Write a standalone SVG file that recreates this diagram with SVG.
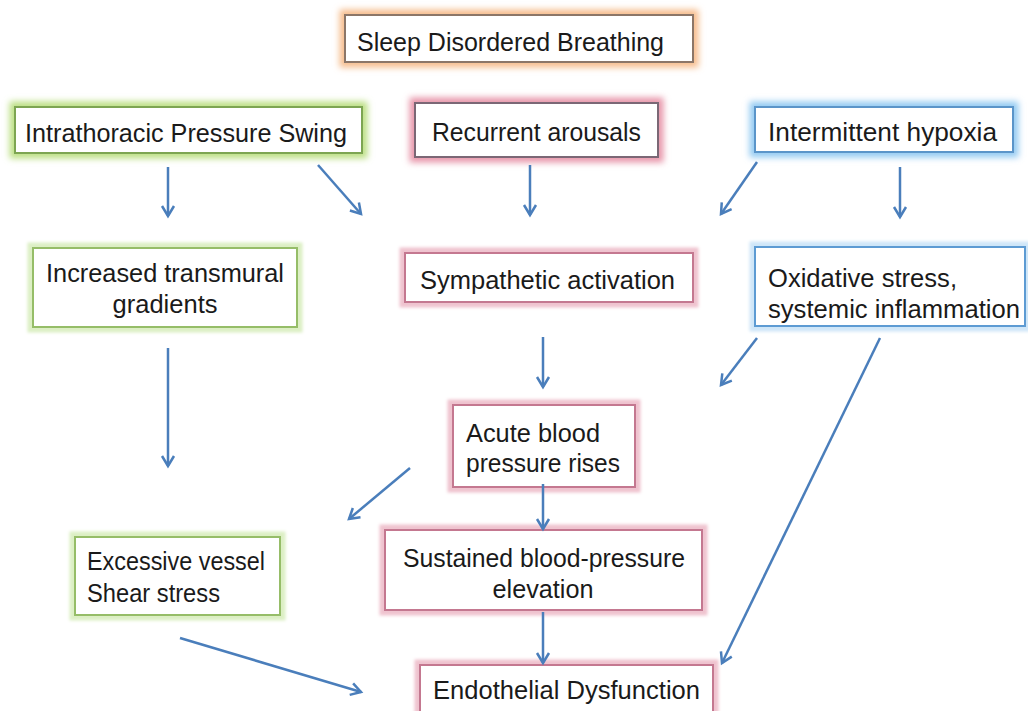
<svg xmlns="http://www.w3.org/2000/svg" width="1028" height="711" viewBox="0 0 1028 711">
<defs>
<filter id="blur" x="-20%" y="-50%" width="140%" height="200%"><feGaussianBlur stdDeviation="3"/></filter>
<filter id="blurS" x="-20%" y="-50%" width="140%" height="200%"><feGaussianBlur stdDeviation="1.5"/></filter>
<marker id="ah" markerUnits="userSpaceOnUse" markerWidth="16" markerHeight="16" refX="11" refY="7" orient="auto" overflow="visible">
<path d="M1,1 L11,7 L1,13" fill="none" stroke="#4a7ebb" stroke-width="2.5" stroke-linejoin="miter"/>
</marker>
</defs>
<style>
text{font-family:"Liberation Sans",Arial,sans-serif;font-size:25px;fill:#1a1a1a}
.c{text-anchor:middle}
.box{fill:#fff;stroke-width:2}
.glow{fill:none;stroke-width:11}
.conn line{stroke:#4a7ebb;stroke-width:2.5;marker-end:url(#ah)}
</style>
<rect width="1028" height="711" fill="#fff"/>

<g id="n-sdb">
<rect class="glow" x="345" y="15" width="348" height="47" stroke="#f6bd8e" filter="url(#blur)"/>
<rect class="box" x="345" y="15" width="348" height="47" stroke="#8c7668"/>
<text x="357" y="51" textLength="307" lengthAdjust="spacingAndGlyphs">Sleep Disordered Breathing</text>
</g>

<g id="n-itp">
<rect class="glow" x="15" y="107" width="347" height="46" stroke="#bcdf84" filter="url(#blur)"/>
<rect class="box" x="15" y="107" width="347" height="46" stroke="#7da552"/>
<text x="25" y="142" textLength="322" lengthAdjust="spacingAndGlyphs">Intrathoracic Pressure Swing</text>
</g>

<g id="n-ra">
<rect class="glow" x="415" y="103" width="243" height="54" stroke="#e896aa" filter="url(#blur)"/>
<rect class="box" x="415" y="103" width="243" height="54" stroke="#7b6775"/>
<text x="432" y="141" textLength="209" lengthAdjust="spacingAndGlyphs">Recurrent arousals</text>
</g>

<g id="n-ih">
<rect class="glow" x="755" y="107" width="258" height="45" stroke="#94cbf2" filter="url(#blur)"/>
<rect class="box" x="755" y="107" width="258" height="45" stroke="#5b95c9"/>
<text x="768" y="141" textLength="229" lengthAdjust="spacingAndGlyphs">Intermittent hypoxia</text>
</g>

<g id="n-itg">
<rect class="glow" x="33" y="248" width="264" height="79" stroke="#dcefc4" filter="url(#blurS)"/>
<rect class="box" x="33" y="248" width="264" height="79" stroke="#96bd68"/>
<text class="c" x="165" y="282" textLength="238" lengthAdjust="spacingAndGlyphs">Increased transmural</text>
<text class="c" x="165" y="313" textLength="105" lengthAdjust="spacingAndGlyphs">gradients</text>
</g>

<g id="n-sa">
<rect class="glow" x="405" y="253" width="288" height="49" stroke="#efc3cf" filter="url(#blurS)"/>
<rect class="box" x="405" y="253" width="288" height="49" stroke="#c47890"/>
<text x="420" y="289" textLength="255" lengthAdjust="spacingAndGlyphs">Sympathetic activation</text>
</g>

<g id="n-os">
<rect class="glow" x="755" y="247" width="270" height="79" stroke="#cfe6f8" filter="url(#blurS)"/>
<rect class="box" x="755" y="247" width="270" height="79" stroke="#5d9bd3"/>
<text x="768" y="287" textLength="189" lengthAdjust="spacingAndGlyphs">Oxidative stress,</text>
<text x="768" y="318" textLength="252" lengthAdjust="spacingAndGlyphs">systemic inflammation</text>
</g>

<g id="n-abp">
<rect class="glow" x="453" y="405" width="182" height="82" stroke="#efc3cf" filter="url(#blurS)"/>
<rect class="box" x="453" y="405" width="182" height="82" stroke="#c47890"/>
<text x="466" y="442" textLength="134" lengthAdjust="spacingAndGlyphs">Acute blood</text>
<text x="466" y="472" textLength="154" lengthAdjust="spacingAndGlyphs">pressure rises</text>
</g>

<g id="n-evs">
<rect class="glow" x="75" y="537" width="205" height="78" stroke="#dcefc4" filter="url(#blurS)"/>
<rect class="box" x="75" y="537" width="205" height="78" stroke="#96bd68"/>
<text x="87" y="570" textLength="178" lengthAdjust="spacingAndGlyphs">Excessive vessel</text>
<text x="87" y="602" textLength="133" lengthAdjust="spacingAndGlyphs">Shear stress</text>
</g>

<g id="n-sbp">
<rect class="glow" x="385" y="530" width="317" height="80" stroke="#efc3cf" filter="url(#blurS)"/>
<rect class="box" x="385" y="530" width="317" height="80" stroke="#c47890"/>
<text class="c" x="544" y="567" textLength="282" lengthAdjust="spacingAndGlyphs">Sustained blood-pressure</text>
<text class="c" x="543" y="598" textLength="101" lengthAdjust="spacingAndGlyphs">elevation</text>
</g>

<g id="n-ed">
<rect class="glow" x="420" y="665" width="293" height="60" stroke="#efc3cf" filter="url(#blurS)"/>
<rect class="box" x="420" y="665" width="293" height="60" stroke="#c47890"/>
<text x="433" y="699" textLength="267" lengthAdjust="spacingAndGlyphs">Endothelial Dysfunction</text>
</g>

<g id="connectors" class="conn">
<line x1="168" y1="167" x2="168" y2="216"/>
<line x1="318" y1="165" x2="361" y2="214"/>
<line x1="530" y1="165" x2="530" y2="215"/>
<line x1="757" y1="162" x2="721" y2="214"/>
<line x1="900" y1="167" x2="900" y2="217"/>
<line x1="168" y1="348" x2="168" y2="466"/>
<line x1="543" y1="337" x2="543" y2="387"/>
<line x1="757" y1="338" x2="721" y2="385"/>
<line x1="880" y1="338" x2="722" y2="663"/>
<line x1="410" y1="468" x2="349" y2="519"/>
<line x1="543" y1="484" x2="543" y2="529"/>
<line x1="543" y1="612" x2="543" y2="663"/>
<line x1="180" y1="638" x2="361" y2="692"/>
</g>
</svg>
